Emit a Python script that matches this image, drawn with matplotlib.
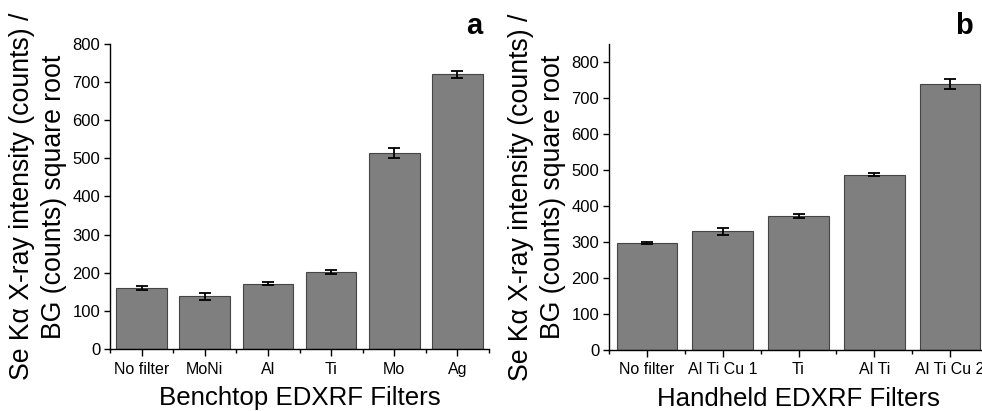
import matplotlib
matplotlib.use("Agg")
import matplotlib.pyplot as plt
import numpy as np
from matplotlib.ticker import MultipleLocator

plt.rcParams["font.family"] = ["Liberation Sans", "DejaVu Sans"]

# panel a: benchtop
bench_filters = ["No filter", "MoNi", "Al", "Ti", "Mo", "Ag"]
bench_values = [160, 138, 171, 202, 514, 721]
bench_errors = [5, 10, 4, 6, 13, 9]

# panel b: handheld
hand_filters = ["No filter", "Al Ti Cu 1", "Ti", "Al Ti", "Al Ti Cu 2"]
hand_values = [297, 330, 372, 488, 740]
hand_errors = [2, 9, 5, 3, 14]

ylabel = "Se K\u03b1 X-ray intensity (counts) /\nBG (counts) square root"

W, H = 982, 411
fig = plt.figure(figsize=(W / 100, H / 100), dpi=100)


def draw_panel(rect, names, values, errors, ymax, xlabel, letter):
    ax = fig.add_axes([rect[0] / W, 1 - rect[3] / H, (rect[2] - rect[0]) / W,
                       (rect[3] - rect[1]) / H])
    x = np.arange(len(names))
    ax.bar(x, values, width=0.8, color="#7f7f7f", edgecolor="#454545",
           linewidth=0.8, zorder=2)
    ax.errorbar(x, values, yerr=errors, fmt="none", ecolor="black",
                elinewidth=1.3, capsize=4.3, capthick=1.3, zorder=3)
    ax.set_xlim(-0.5, len(names) - 0.5)
    ax.set_ylim(0, ymax)
    ax.yaxis.set_major_locator(MultipleLocator(100))
    ax.set_xticks(x)
    ax.set_xticklabels(names, fontsize=11.5)
    ax.set_xticks(np.arange(len(names) + 1) - 0.5, minor=True)
    ax.tick_params(axis="x", which="major", length=5, width=1, pad=4)
    ax.tick_params(axis="x", which="minor", length=3, width=1)
    ax.tick_params(axis="y", which="major", length=4, width=1, labelsize=12, pad=3)
    for side in ("top", "right"):
        ax.spines[side].set_visible(False)
    for side in ("left", "bottom"):
        ax.spines[side].set_linewidth(1)
    ax.set_xlabel(xlabel, fontsize=18.6, labelpad=7)
    ax.set_ylabel(ylabel, fontsize=19.2, labelpad=4, linespacing=1.3)
    fig.text(letter[1] / W, 1 - letter[2] / H, letter[0], fontsize=21,
             fontweight="bold", ha="center", va="baseline")
    return ax


draw_panel((110, 44, 489, 349), bench_filters, bench_values, bench_errors, 800,
           "Benchtop EDXRF Filters", ("a", 474, 34))
draw_panel((609, 44, 988, 350), hand_filters, hand_values, hand_errors, 851,
           "Handheld EDXRF Filters", ("b", 963.5, 34))

fig.savefig("out.png", dpi=100)
